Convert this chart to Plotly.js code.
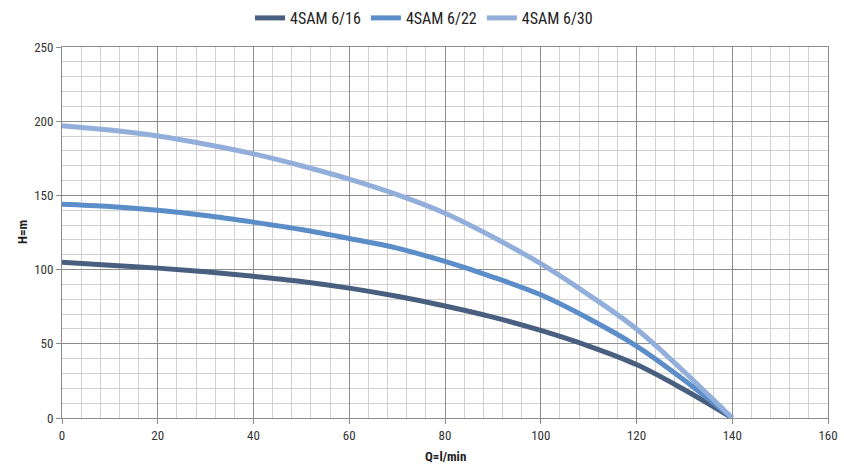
<!DOCTYPE html>
<html>
<head>
<meta charset="utf-8">
<script src="https://cdn.plot.ly/plotly-3.0.1.min.js"></script>
<style>html,body{margin:0;padding:0;background:#fff;}#chart{width:844px;height:464px;}</style>
</head>
<body>
<div id="chart"></div>
<script>
const flow = [0, 10, 20, 30, 40, 50, 60, 70, 80, 90, 100, 110, 120, 130, 140];
const head616 = [105, 103, 101, 98.5, 95.5, 92, 87.5, 82, 75.5, 68, 59, 48.5, 36, 19, 0];
const head622 = [144, 142.5, 140, 136.5, 132, 127, 121, 114.5, 105.5, 95, 83, 67, 48.5, 25.5, 0];
const head630 = [197, 194, 190, 184.5, 178, 170, 161, 150.5, 138, 122, 104, 83, 60, 31, 0];
const seriesNames = ['4SAM 6/16', '4SAM 6/22', '4SAM 6/30'];
const seriesColors = ['#485f80', '#5b8dc8', '#92aedb'];
const xTicks = [0, 20, 40, 60, 80, 100, 120, 140, 160];
const yTicks = [0, 50, 100, 150, 200, 250];

const font = '"Liberation Sans Narrow", "Roboto Condensed", Roboto, sans-serif';
const heads = [head616, head622, head630];
const traces = heads.map((h, i) => ({
  x: flow, y: h, name: seriesNames[i], type: 'scatter', mode: 'lines',
  line: {color: seriesColors[i], width: 5, shape: 'spline', smoothing: 1}
}));

const H = 464, T = 10, B = 46;
const plotH = 418 - 47;
const paperH = H - T - B;

const layout = {
  width: 844, height: H,
  margin: {l: 62, r: 16, t: T, b: B, autoexpand: false},
  paper_bgcolor: '#fff', plot_bgcolor: '#fff',
  font: {family: font, size: 13, color: '#333'},
  showlegend: true,
  legend: {orientation: 'h', x: (424 - 62) / 766, xanchor: 'center', y: 1 - 8 / paperH, yanchor: 'middle',
    font: {family: font, size: 16, color: '#222'}, itemwidth: 30, tracegroupgap: 0,
    bgcolor: 'rgba(0,0,0,0)'},
  xaxis: {
    range: [0, 160], tickvals: xTicks, ticktext: xTicks.map(String),
    showgrid: true, gridcolor: '#8c8c8c', gridwidth: 1,
    minor: {dtick: 4, showgrid: true, gridcolor: '#d0d0d0', gridwidth: 1},
    showline: true, linecolor: '#8c8c8c', mirror: true,
    ticks: 'outside', ticklen: 5, tickcolor: '#8c8c8c',
    zeroline: false, fixedrange: true, automargin: false,
    tickfont: {family: font, size: 13, color: '#333'}
  },
  yaxis: {
    domain: [0, plotH / paperH],
    range: [0, 250], tickvals: yTicks, ticktext: yTicks.map(String),
    showgrid: true, gridcolor: '#8c8c8c', gridwidth: 1,
    minor: {dtick: 10, showgrid: true, gridcolor: '#d0d0d0', gridwidth: 1},
    showline: true, linecolor: '#8c8c8c', mirror: true,
    ticks: 'outside', ticklen: 5, tickcolor: '#8c8c8c',
    zeroline: false, fixedrange: true, automargin: false,
    tickfont: {family: font, size: 13, color: '#333'}
  },
  annotations: [
    {text: '<b>Q=l/min</b>', xref: 'paper', yref: 'paper', x: 0.5, y: -(456 - 418) / paperH,
     xanchor: 'center', yanchor: 'middle', showarrow: false,
     font: {family: font, size: 13, color: '#222'}},
    {text: '<b>H=m</b>', xref: 'paper', yref: 'paper', x: -(62 - 22) / 766, y: (418 - 232) / paperH,
     xanchor: 'center', yanchor: 'middle', showarrow: false, textangle: -90,
     font: {family: font, size: 13, color: '#222'}}
  ]
};

Plotly.newPlot('chart', traces, layout, {displayModeBar: false, staticPlot: true});
</script>
</body>
</html>
